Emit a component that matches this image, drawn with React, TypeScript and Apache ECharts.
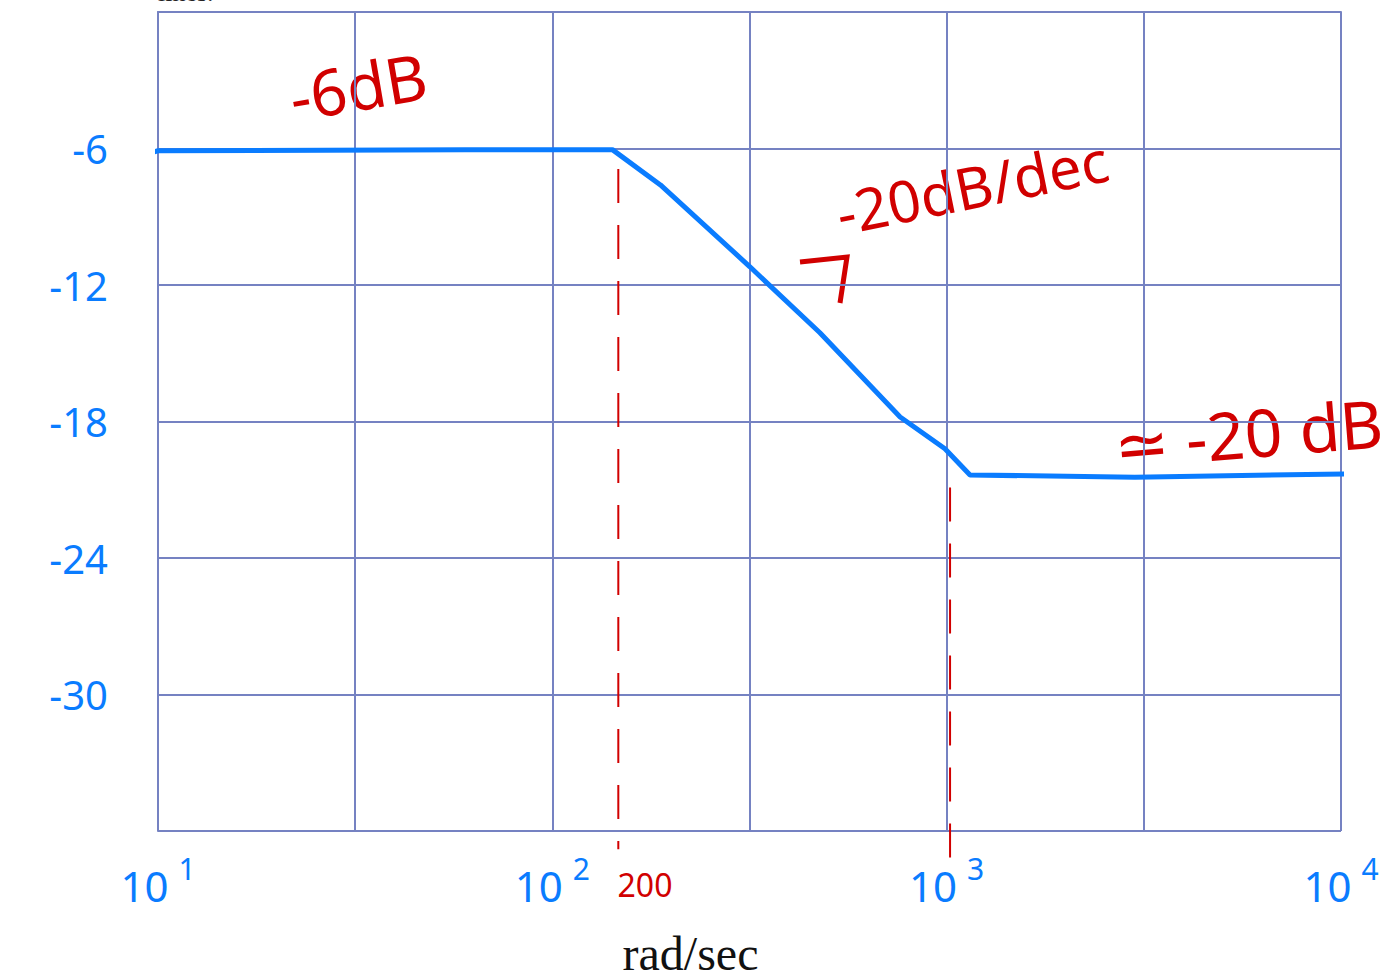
import React, { useEffect, useRef } from "react";
import * as echarts from "echarts";

// Frequency response (rad/sec) and magnitude (dB), as sketched
const freqRadSec = [9.55, 10, 60, 142, 188, 317, 477, 762, 990, 1146, 3000, 10500];
const magnitudeDb = [-6.2, -6.1, -6.05, -6.05, -7.6, -11.2, -14.1, -17.8, -19.2, -20.35, -20.45, -20.3];

// Corner-frequency dashed markers
const cornerFreqs = [147, 1020];
const cornerTopDb = [-6.9, -20.9];
const cornerBottomDb = [-36.8, -37.5];

// Axis ticks
const yTicks = [-6, -12, -18, -24, -30];
const xDecades = [1, 2, 3, 4];

const BLUE = "#0a7cff";
const RED = "#d10000";
const GRIDC = "#7582c2";
const HAND = '"Noto Sans", sans-serif';

export default function App() {
  const ref = useRef<HTMLDivElement>(null);
  useEffect(() => {
    document.body.style.margin = "0";
    const chart = echarts.init(ref.current!, null, { renderer: "svg" });
    const centered = {
      fill: RED, fontFamily: HAND,
      align: "center", verticalAlign: "middle", textAlign: "center", textVerticalAlign: "middle",
    };
    const option: any = {
      animation: false,
      grid: { left: 158, right: 54, top: 12, bottom: 149, containLabel: false, outerBoundsMode: "none" },
      xAxis: {
        type: "value",
        min: 1,
        max: 4,
        interval: 0.5,
        name: "rad/sec",
        nameLocation: "middle",
        nameGap: 98,
        nameTextStyle: {
          fontFamily: '"Liberation Serif", serif', fontSize: 48, color: "#111",
          padding: [0, 118, 0, 0],
        },
        axisLine: { show: true, lineStyle: { color: GRIDC, width: 2 } },
        axisTick: { show: false },
        splitLine: { show: true, lineStyle: { color: GRIDC, width: 2 } },
        axisLabel: {
          margin: 22,
          color: BLUE,
          fontFamily: HAND,
          formatter: (v: number) =>
            xDecades.includes(v) ? `{b|10}{e|${v}}` : "",
          rich: {
            b: { fontSize: 42, color: BLUE, fontFamily: HAND },
            e: { fontSize: 30, color: BLUE, fontFamily: HAND, padding: [0, 0, 34, 10] },
          },
        },
      },
      yAxis: {
        type: "value",
        min: -36,
        max: 0,
        interval: 6,
        axisLine: { show: true, lineStyle: { color: GRIDC, width: 2 } },
        axisTick: { show: false },
        splitLine: { show: true, lineStyle: { color: GRIDC, width: 2 } },
        axisLabel: {
          margin: 50,
          color: BLUE,
          fontFamily: HAND,
          fontSize: 40,
          formatter: (v: number) => (yTicks.includes(v) ? String(v) : ""),
        },
      },
      series: [
        ...cornerFreqs.map((f, i) => ({
          type: "line",
          clip: false,
          symbol: "none",
          silent: true,
          data: [
            [Math.log10(f), cornerTopDb[i]],
            [Math.log10(f), cornerBottomDb[i]],
          ],
          lineStyle: { color: RED, width: 2, type: [34, 22] },
          z: 1,
        })),
        {
          type: "line",
          clip: false,
          symbol: "none",
          data: freqRadSec.map((f, i) => [Math.log10(f), magnitudeDb[i]]),
          lineStyle: { color: BLUE, width: 5 },
          z: 3,
        },
      ],
      graphic: [
        {
          type: "text",
          x: 158,
          y: -21,
          style: { text: "lines.", fill: "#222", fontSize: 26, fontFamily: '"Liberation Serif", serif' },
        },
        { type: "text", x: 358, y: 86, rotation: 0.17, style: { ...centered, text: "-6dB", fontSize: 64 } },
        { type: "text", x: 972, y: 186, rotation: 0.2, style: { ...centered, text: "-20dB/dec", fontSize: 58 } },
        { type: "text", x: 1248, y: 432, rotation: 0.08, style: { ...centered, text: "≃ -20 dB", fontSize: 66 } },
        { type: "text", x: 645, y: 884, style: { ...centered, text: "200", fontSize: 32 } },
        {
          type: "polyline",
          shape: { points: [[800, 262], [847, 257], [840, 303]] },
          style: { stroke: RED, lineWidth: 5, fill: null },
        },
      ],
    };
    chart.setOption(option);
    return () => chart.dispose();
  }, []);
  return <div ref={ref} style={{ width: 1395, height: 980 }} />;
}
